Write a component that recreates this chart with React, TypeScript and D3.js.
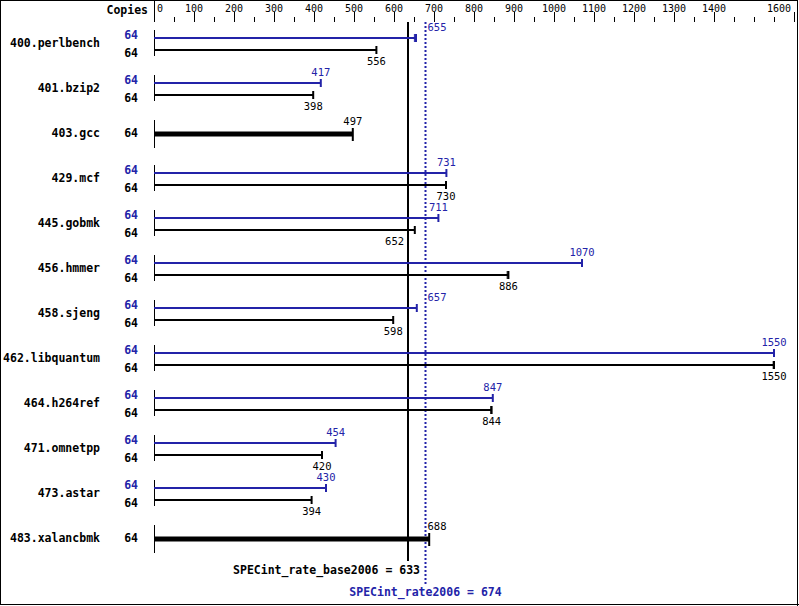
import React from "react";
import * as d3 from "d3";

const benchmarks = [
  "400.perlbench", "401.bzip2", "403.gcc", "429.mcf", "445.gobmk", "456.hmmer",
  "458.sjeng", "462.libquantum", "464.h264ref", "471.omnetpp", "473.astar", "483.xalancbmk",
];
const copies = [64, 64, 64, 64, 64, 64, 64, 64, 64, 64, 64, 64];
// null peak => single (base only) bar
const peakValues: (number | null)[] = [655, 417, null, 731, 711, 1070, 657, 1550, 847, 454, 430, null];
const baseValues = [556, 398, 497, 730, 652, 886, 598, 1550, 844, 420, 394, 688];
// extra run ticks (second run result) where visible
const peakRun2: (number | null)[] = [651, null, null, null, null, null, null, null, null, null, null, null];
const baseRun2: (number | null)[] = [null, null, null, null, null, 883, null, 1548, 842, null, null, null];
const tickLabels = [0, 100, 200, 300, 400, 500, 600, 700, 800, 900, 1000, 1100, 1200, 1300, 1400, 1600];
const baseMean = 633;
const peakMean = 674;

const W = 799, H = 606;
const BLUE = "#2323a8";
const MONO = "'DejaVu Sans Mono', 'Liberation Mono', monospace";

export default function App() {
  const x = d3.scaleLinear().domain([0, 1600]).range([154, 794]);
  const rowY = d3.scaleLinear().domain([0, 1]).range([43, 88]);
  const minorTicks = d3.range(0, 1601, 50).filter((v) => !tickLabels.includes(v));
  const xBase = Math.round(x(baseMean)) + 1;
  const xPeak = Math.round(x(peakMean)) + 1.5;
  const labelW = (s: string) => s.length * 6.3;

  const placeLabel = (v: number, txt: string, kind: "peak" | "base" | "single") => {
    const ex = x(v);
    const w = labelW(txt);
    let left = ex - w / 2;
    const right = left + w;
    if (kind === "base") {
      if (left < xBase + 1 && right > xBase - 1) left = xBase - 4 - w;
    } else {
      if (left < xPeak + 1 && right > xPeak - 1) left = xPeak + 2;
      else if (left < xBase + 1 && right > xBase - 1) left = xBase - 4 - w;
    }
    return left;
  };

  return (
    <svg width={W} height={H} style={{ display: "block", position: "absolute", left: 0, top: 0 }}>
      <rect x={0} y={0} width={W} height={H} fill="#fff" />
      <rect x={0.5} y={0.5} width={W - 2} height={H - 2} fill="none" stroke="#000" strokeWidth={1} />
      <line x1={W - 1.5} y1={0} x2={W - 1.5} y2={H} stroke="#000" strokeWidth={1} />
      <line x1={0} y1={H - 1.5} x2={W} y2={H - 1.5} stroke="#000" strokeWidth={1} />

      {/* header */}
      <text x={148} y={14} textAnchor="end" fontFamily={MONO} fontWeight="bold" fontSize={11.5} fill="#000">Copies</text>
      <line x1={x(0) + 0.5} y1={0} x2={x(0) + 0.5} y2={22} stroke="#000" strokeWidth={1} />
      {tickLabels.map((v) => (
        <g key={"t" + v}>
          <line x1={Math.round(x(v)) + 0.5} y1={12} x2={Math.round(x(v)) + 0.5} y2={22} stroke="#000" strokeWidth={1} />
          <text
            x={v === 0 ? x(v) + 3 : v === 1600 ? x(v) - 3 : x(v)}
            y={12}
            textAnchor={v === 0 ? "start" : v === 1600 ? "end" : "middle"}
            fontFamily={MONO}
            fontSize={10}
            fill="#000"
          >
            {v}
          </text>
        </g>
      ))}
      {minorTicks.map((v) => (
        <line key={"m" + v} x1={Math.round(x(v)) + 0.5} y1={17} x2={Math.round(x(v)) + 0.5} y2={22} stroke="#000" strokeWidth={1} />
      ))}

      {/* mean lines */}
      <line x1={xBase} y1={22} x2={xBase} y2={561} stroke="#000" strokeWidth={2} />
      <line x1={xPeak} y1={22} x2={xPeak} y2={584} stroke={BLUE} strokeWidth={2} strokeDasharray="2,2" />

      {benchmarks.map((b, i) => {
        const cy = rowY(i);
        const pv = peakValues[i];
        const bv = baseValues[i];
        const x0 = x(0);
        if (pv === null) {
          const lx = placeLabel(bv, String(bv), "single");
          return (
            <g key={b}>
              <text x={100} y={cy + 4} textAnchor="end" fontFamily={MONO} fontWeight="bold" fontSize={11.5}>{b}</text>
              <text x={138} y={cy + 4} textAnchor="end" fontFamily={MONO} fontWeight="bold" fontSize={11.5}>{copies[i]}</text>
              <line x1={x0 + 0.5} y1={cy - 13} x2={x0 + 0.5} y2={cy + 15} stroke="#000" strokeWidth={1} />
              <line x1={x0} y1={cy + 1} x2={x(bv)} y2={cy + 1} stroke="#000" strokeWidth={5} />
              <line x1={x(bv)} y1={cy - 5} x2={x(bv)} y2={cy + 8} stroke="#000" strokeWidth={2} />
              <text x={lx} y={cy - 8} fontFamily={MONO} fontSize={10.5}>{bv}</text>
            </g>
          );
        }
        const yP = cy - 5;
        const yB = cy + 7;
        const lp = placeLabel(pv, String(pv), "peak");
        const lb = placeLabel(bv, String(bv), "base");
        const p2 = peakRun2[i];
        const b2 = baseRun2[i];
        return (
          <g key={b}>
            <text x={100} y={cy + 4} textAnchor="end" fontFamily={MONO} fontWeight="bold" fontSize={11.5}>{b}</text>
            <text x={138} y={yP + 1} textAnchor="end" fontFamily={MONO} fontWeight="bold" fontSize={11.5} fill={BLUE}>{copies[i]}</text>
            <text x={138} y={yB + 7} textAnchor="end" fontFamily={MONO} fontWeight="bold" fontSize={11.5}>{copies[i]}</text>
            <line x1={x0 + 0.5} y1={cy - 13} x2={x0 + 0.5} y2={cy + 13} stroke="#000" strokeWidth={1} />
            <line x1={x0} y1={yP} x2={x(pv)} y2={yP} stroke={BLUE} strokeWidth={2} />
            <line x1={x(pv)} y1={yP - 4} x2={x(pv)} y2={yP + 4} stroke={BLUE} strokeWidth={2} />
            {p2 !== null && <line x1={x(p2)} y1={yP - 4} x2={x(p2)} y2={yP + 4} stroke={BLUE} strokeWidth={1} />}
            <text x={lp} y={yP - 7} fontFamily={MONO} fontSize={10.5} fill={BLUE}>{pv}</text>
            <line x1={x0} y1={yB} x2={x(bv)} y2={yB} stroke="#000" strokeWidth={2} />
            <line x1={x(bv)} y1={yB - 4} x2={x(bv)} y2={yB + 4} stroke="#000" strokeWidth={2} />
            {b2 !== null && <line x1={x(b2)} y1={yB - 4} x2={x(b2)} y2={yB + 4} stroke="#000" strokeWidth={1} />}
            <text x={lb} y={yB + 15} fontFamily={MONO} fontSize={10.5}>{bv}</text>
          </g>
        );
      })}

      <text x={xBase + 12} y={574} textAnchor="end" fontFamily={MONO} fontWeight="bold" fontSize={11.5} fill="#000">
        {`SPECint_rate_base2006 = ${baseMean}`}
      </text>
      <text x={xPeak} y={596} textAnchor="middle" fontFamily={MONO} fontWeight="bold" fontSize={11.5} fill={BLUE}>
        {`SPECint_rate2006 = ${peakMean}`}
      </text>
    </svg>
  );
}
